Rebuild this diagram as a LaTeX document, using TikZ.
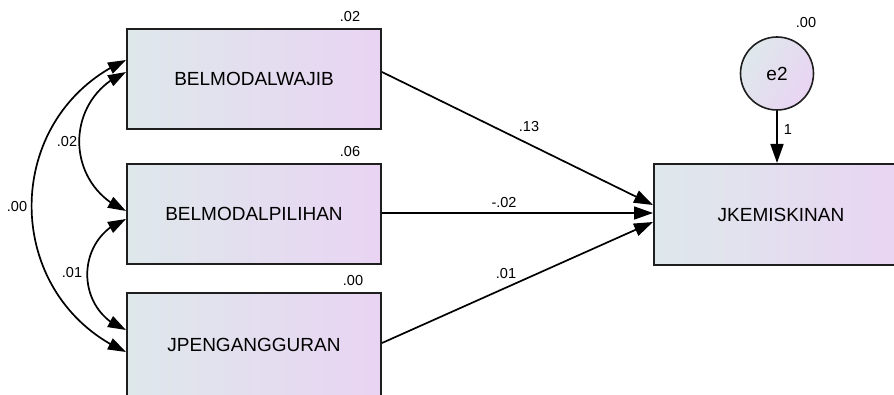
\documentclass[tikz,border=0pt]{standalone}
\usepackage{fontspec}
\setmainfont{Liberation Sans}
\usetikzlibrary{arrows.meta,bending,shapes.geometric}
\definecolor{boxL}{RGB}{222,232,235}
\definecolor{boxR}{RGB}{233,212,243}
\definecolor{edge}{RGB}{30,30,30}
\tikzset{
  var/.style={draw=edge, line width=2pt, left color=boxL, right color=boxR,
    minimum width=254pt, minimum height=100pt, inner sep=0pt,
    font=\fontsize{19}{19}\selectfont},
  err/.style={circle, draw=edge, line width=1.6pt, left color=boxL, right color=boxR,
    shading angle=60, minimum size=73pt, inner sep=0pt, font=\fontsize{19}{19}\selectfont},
  lbl/.style={font=\fontsize{14.5}{14.5}\selectfont, inner sep=0pt},
  path/.style={line width=1.7pt, -{Triangle[length=19pt,width=13pt]}},
  cov/.style={line width=1.7pt, {Triangle[length=18pt,width=12pt]}-{Triangle[length=18pt,width=12pt]}}
}
\begin{document}
\begin{tikzpicture}[x=1pt,y=1pt]
\useasboundingbox (0,0) rectangle (894,394);
% observed variables
\node[var] (wajib) at (254,315) {BELMODALWAJIB};
\node[var] (pilihan) at (254,180) {BELMODALPILIHAN};
\node[var, minimum height=110pt, text depth=6pt] (jpeng) at (254,46) {JPENGANGGURAN};
\node[var, minimum height=101pt] (jkem) at (781,179.5) {JKEMISKINAN};
\node[err] (e2) at (777,320.5) {e2};
% variances
\node[lbl] (v1) at (350,377) {.02};
\node[lbl] (v2) at (350,242) {.06};
\node[lbl] (v3) at (353,113) {.00};
\node[lbl] (v4) at (806,371) {.00};
% regression paths
\draw[path] ([yshift=7pt]wajib.east) -- ([yshift=9.5pt]jkem.west);
\draw[path] ([yshift=1pt]pilihan.east) -- ([yshift=1.5pt]jkem.west);
\draw[path] ([yshift=5pt]jpeng.east) -- ([yshift=-7.5pt]jkem.west);
\draw[path] (e2.south) -- (e2.south |- jkem.north);
\node[lbl] (p1) at (529,267) {.13};
\node[lbl] (p2) at (504,191) {-.02};
\node[lbl] (p3) at (506,120) {.01};
\node[lbl] (p4) at (788,264) {1};
% covariances
\draw[cov] ([yshift=7pt]wajib.west) to[bend right=67, looseness=1.25] ([yshift=3pt]pilihan.west);
\draw[cov] ([yshift=-5pt]pilihan.west) to[bend right=70, looseness=1.27] ([yshift=18pt]jpeng.west);
\draw[cov] ([yshift=19pt]wajib.west) to[bend right=66, looseness=1.21] ([yshift=-4pt]jpeng.west);
\node[lbl] (c1) at (67,252) {.02};
\node[lbl] (c2) at (72,121) {.01};
\node[lbl] (c3) at (17,187) {.00};
\end{tikzpicture}
\end{document}
